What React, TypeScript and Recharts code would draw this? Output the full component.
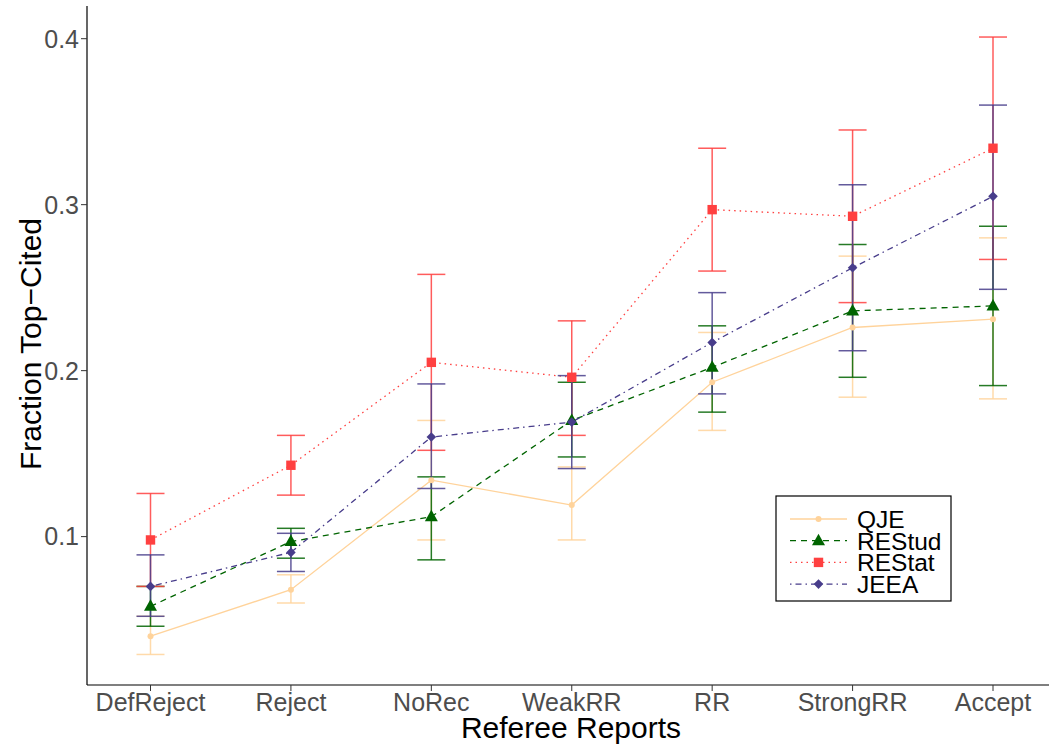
import React from 'react';
import { LineChart, Line, XAxis, YAxis, ErrorBar, Legend } from 'recharts';

const categories = ['DefReject', 'Reject', 'NoRec', 'WeakRR', 'RR', 'StrongRR', 'Accept'];

const qje = [0.040, 0.068, 0.134, 0.119, 0.193, 0.226, 0.231];
const qjeLo = [0.029, 0.060, 0.098, 0.098, 0.164, 0.184, 0.183];
const qjeHi = [0.052, 0.077, 0.170, 0.142, 0.223, 0.269, 0.280];

const restud = [0.058, 0.097, 0.112, 0.170, 0.202, 0.236, 0.239];
const restudLo = [0.046, 0.087, 0.086, 0.148, 0.175, 0.196, 0.191];
const restudHi = [0.070, 0.105, 0.136, 0.193, 0.227, 0.276, 0.287];

const restat = [0.098, 0.143, 0.205, 0.196, 0.297, 0.293, 0.334];
const restatLo = [0.070, 0.125, 0.152, 0.161, 0.260, 0.241, 0.267];
const restatHi = [0.126, 0.161, 0.258, 0.230, 0.334, 0.345, 0.401];

const jeea = [0.070, 0.0905, 0.160, 0.169, 0.217, 0.262, 0.305];
const jeeaLo = [0.052, 0.079, 0.129, 0.141, 0.186, 0.212, 0.249];
const jeeaHi = [0.089, 0.102, 0.192, 0.197, 0.247, 0.312, 0.360];

const yTicks = [0.1, 0.2, 0.3, 0.4];

const COLORS = {
  QJE: '#FFD39B',
  REStud: '#006400',
  REStat: '#FF4040',
  JEEA: '#483D8B',
};

const data = categories.map((c, i) => ({
  cat: c,
  QJE: qje[i],
  QJEErr: [qje[i] - qjeLo[i], qjeHi[i] - qje[i]],
  REStud: restud[i],
  REStudErr: [restud[i] - restudLo[i], restudHi[i] - restud[i]],
  REStat: restat[i],
  REStatErr: [restat[i] - restatLo[i], restatHi[i] - restat[i]],
  JEEA: jeea[i],
  JEEAErr: [jeea[i] - jeeaLo[i], jeeaHi[i] - jeea[i]],
}));

const FONT = '"Liberation Sans", Arial, Helvetica, sans-serif';

type Shape = 'circle' | 'triangle' | 'square' | 'diamond';

const Marker = ({ cx, cy, fill, shape }: { cx: number; cy: number; fill: string; shape: Shape }) => {
  if (cx == null || cy == null) return null;
  if (shape === 'circle') return <circle cx={cx} cy={cy} r={3} fill={fill} />;
  if (shape === 'triangle')
    return <polygon points={`${cx},${cy - 7} ${cx - 6.5},${cy + 4.5} ${cx + 6.5},${cy + 4.5}`} fill={fill} />;
  if (shape === 'square') return <rect x={cx - 4.7} y={cy - 4.7} width={9.4} height={9.4} fill={fill} />;
  return <polygon points={`${cx},${cy - 4.8} ${cx + 4.8},${cy} ${cx},${cy + 4.8} ${cx - 4.8},${cy}`} fill={fill} />;
};

const series: { key: 'QJE' | 'REStud' | 'REStat' | 'JEEA'; dash: string | undefined; shape: Shape }[] = [
  { key: 'QJE', dash: undefined, shape: 'circle' },
  { key: 'REStud', dash: '6 5', shape: 'triangle' },
  { key: 'REStat', dash: '1.5 4', shape: 'square' },
  { key: 'JEEA', dash: '1.5 4 6 4', shape: 'diamond' },
];

const LegendBox = () => (
  <svg width={178} height={108} style={{ display: 'block' }}>
    <rect x={1} y={1} width={175} height={105} fill="#fff" stroke="#000" strokeWidth={1.2} />
    {series.map((s, i) => {
      const y = 24 + i * 21.7;
      return (
        <g key={s.key}>
          <line x1={15} x2={72} y1={y} y2={y} stroke={COLORS[s.key]} strokeWidth={1.3} strokeDasharray={s.dash} />
          <Marker cx={43.5} cy={y} fill={COLORS[s.key]} shape={s.shape} />
          <text x={82} y={y + 8.8} fontSize={24.5} fontFamily={FONT} fill="#000">
            {s.key}
          </text>
        </g>
      );
    })}
  </svg>
);

export default function App() {
  return (
    <div style={{ position: 'absolute', left: 0, top: 0, width: 1049, height: 747, background: '#fff' }}>
      <LineChart width={1049} height={747} data={data} margin={{ top: 6, right: 0, bottom: 0, left: 0 }}>
        <XAxis
          dataKey="cat"
          height={62}
          padding={{ left: 63.5, right: 56 }}
          axisLine={{ stroke: '#000', strokeWidth: 1.2 }}
          tickLine={{ stroke: '#333', strokeWidth: 1 }}
          tickSize={6}
          tickMargin={2}
          tick={{ fill: '#4D4D4D', fontSize: 25, fontFamily: FONT }}
          interval={0}
          label={{
            content: () => (
              <text x={571} y={738} textAnchor="middle" fontSize={30} fontFamily={FONT} fill="#000">
                Referee Reports
              </text>
            ),
          }}
        />
        <YAxis
          type="number"
          domain={[0.0106, 0.4197]}
          allowDataOverflow
          ticks={yTicks}
          width={87}
          axisLine={{ stroke: '#000', strokeWidth: 1.2 }}
          tickLine={{ stroke: '#333', strokeWidth: 1 }}
          tickSize={6}
          tickMargin={2}
          tick={{ fill: '#4D4D4D', fontSize: 25, fontFamily: FONT }}
          tickFormatter={(v: number) => v.toFixed(1)}
          label={{
            content: () => (
              <text
                x={41}
                y={344}
                transform="rotate(-90 41 344)"
                textAnchor="middle"
                fontSize={30}
                fontFamily={FONT}
                fill="#000"
              >
                Fraction Top−Cited
              </text>
            ),
          }}
        />
        {series.map((s) => (
          <Line
            key={s.key}
            dataKey={s.key}
            type="linear"
            stroke={COLORS[s.key]}
            strokeWidth={1.3}
            strokeDasharray={s.dash}
            isAnimationActive={false}
            activeDot={false}
            dot={(p: any) => <Marker key={`${s.key}-${p.index}`} cx={p.cx} cy={p.cy} fill={COLORS[s.key]} shape={s.shape} />}
          >
            <ErrorBar
              dataKey={`${s.key}Err`}
              width={14}
              strokeWidth={1.5}
              stroke={COLORS[s.key]}
              strokeOpacity={0.85}
              direction="y"
              isAnimationActive={false}
            />
          </Line>
        ))}
        <Legend
          layout="horizontal"
          verticalAlign="middle"
          align="center"
          content={() => <LegendBox />}
          wrapperStyle={{ position: 'absolute', left: 775, top: 495, width: 178, height: 108 }}
        />
      </LineChart>
    </div>
  );
}
